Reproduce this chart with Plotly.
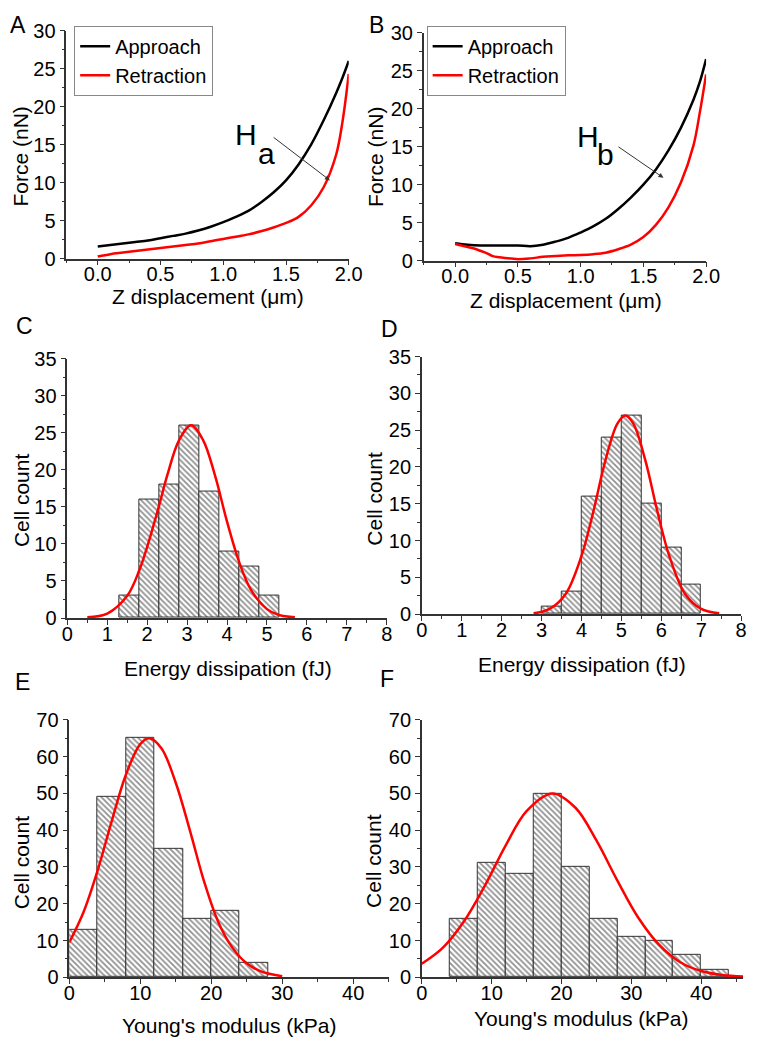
import plotly.graph_objects as go
from plotly.subplots import make_subplots

# ---- panel A / B: force curves ----
z_a = [0.0, 0.1, 0.2, 0.3, 0.4, 0.5, 0.6, 0.7, 0.8, 0.9, 1.0, 1.1, 1.2, 1.3, 1.4, 1.5, 1.6, 1.7, 1.8, 1.9, 1.95, 2.0]
approach_a = [1.6, 1.8, 2.0, 2.2, 2.4, 2.7, 3.0, 3.3, 3.7, 4.2, 4.8, 5.5, 6.3, 7.4, 8.7, 10.3, 12.4, 15.0, 18.2, 21.8, 23.8, 26.0]
retraction_a = [0.3, 0.6, 0.8, 1.0, 1.2, 1.4, 1.6, 1.8, 2.0, 2.3, 2.6, 2.9, 3.2, 3.6, 4.1, 4.7, 5.5, 7.0, 9.4, 13.7, 18.0, 24.3]

z_b_app = [0.0, 0.1, 0.2, 0.3, 0.4, 0.5, 0.6, 0.7, 0.8, 0.9, 1.0, 1.1, 1.2, 1.3, 1.4, 1.5, 1.6, 1.7, 1.8, 1.9, 1.95, 2.0]
approach_b = [2.3, 2.1, 2.0, 2.0, 2.0, 2.0, 1.9, 2.1, 2.5, 3.0, 3.7, 4.5, 5.5, 6.8, 8.3, 10.0, 12.0, 14.5, 17.5, 21.2, 23.5, 26.5]
z_b_ret = [0.0, 0.05, 0.1, 0.15, 0.2, 0.25, 0.3, 0.35, 0.4, 0.5, 0.6, 0.7, 0.8, 0.9, 1.0, 1.1, 1.2, 1.3, 1.4, 1.5, 1.6, 1.7, 1.8, 1.9, 1.95, 2.0]
retraction_b = [2.2, 2.0, 1.8, 1.6, 1.3, 1.0, 0.6, 0.45, 0.35, 0.2, 0.3, 0.5, 0.6, 0.7, 0.75, 0.85, 1.05, 1.5, 2.1, 3.1, 4.7, 7.0, 10.3, 15.2, 19.5, 24.5]

# ---- panel C / D: energy dissipation histograms ----
bins_c = [1.3, 1.8, 2.3, 2.8, 3.3, 3.8, 4.3, 4.8]
counts_c = [3, 16, 18, 26, 17, 9, 7, 3]
fit_c_x = [0.5, 1.0, 1.5, 1.8, 2.0, 2.3, 2.5, 2.8, 3.1, 3.4, 3.7, 4.0, 4.3, 4.6, 5.0, 5.3, 5.7]
fit_c_y = [0.1, 0.6, 3.0, 6.4, 9.6, 15.2, 19.2, 24.0, 26.0, 24.0, 19.2, 13.0, 7.6, 3.8, 1.2, 0.4, 0.1]

bins_d = [3.0, 3.5, 4.0, 4.5, 5.0, 5.5, 6.0, 6.5]
counts_d = [1, 3, 16, 24, 27, 15, 9, 4]
fit_d_x = [2.8, 3.2, 3.6, 4.0, 4.3, 4.6, 4.9, 5.1, 5.3, 5.6, 5.9, 6.2, 6.6, 7.0, 7.45]
fit_d_y = [0.1, 0.7, 2.7, 7.9, 14.0, 20.9, 25.9, 27.0, 25.9, 20.9, 14.0, 7.9, 2.7, 0.7, 0.1]

# ---- panel E / F: Young's modulus histograms ----
bins_e = [0, 4, 8, 12, 16, 20, 24]
counts_e = [13, 49, 65, 35, 16, 18, 4]
fit_e_x = [0, 2, 4, 6, 8, 10, 11.3, 13, 15, 17, 19, 21, 23, 25, 27, 30]
fit_e_y = [9.5, 17.7, 29.1, 42.6, 55.2, 63.4, 65.0, 62.2, 52.9, 39.9, 26.0, 15.0, 8.0, 3.8, 1.6, 0.3]

bins_f = [4, 8, 12, 16, 20, 24, 28, 32, 36, 40]
counts_f = [16, 31, 28, 50, 30, 16, 11, 10, 6, 2]
fit_f_x = [0, 3, 6, 9, 12, 15, 18.7, 22, 25, 28, 31, 34, 37, 40, 43, 46]
fit_f_y = [3.7, 8.0, 15.1, 24.8, 35.8, 45.2, 50.0, 46.1, 37.2, 26.3, 16.2, 8.8, 4.1, 1.7, 0.6, 0.2]

FONT = "Liberation Sans, Arial, sans-serif"
W, H = 761, 1050

fig = make_subplots(rows=3, cols=2)

# Кривые сила-смещение
fig.add_trace(go.Scatter(x=z_a, y=approach_a, mode='lines', name='Approach', legend='legend',
                         line=dict(color='black', width=2.5, shape='spline')), row=1, col=1)
fig.add_trace(go.Scatter(x=z_a, y=retraction_a, mode='lines', name='Retraction', legend='legend',
                         line=dict(color='red', width=2.5, shape='spline')), row=1, col=1)
fig.add_trace(go.Scatter(x=z_b_app, y=approach_b, mode='lines', name='Approach', legend='legend2',
                         line=dict(color='black', width=2.5, shape='spline')), row=1, col=2)
fig.add_trace(go.Scatter(x=z_b_ret, y=retraction_b, mode='lines', name='Retraction', legend='legend2',
                         line=dict(color='red', width=2.5, shape='spline')), row=1, col=2)

# Гистограммы с гауссовой аппроксимацией
hists = [
    (bins_c, counts_c, 0.5, fit_c_x, fit_c_y, 2, 1),
    (bins_d, counts_d, 0.5, fit_d_x, fit_d_y, 2, 2),
    (bins_e, counts_e, 4, fit_e_x, fit_e_y, 3, 1),
    (bins_f, counts_f, 4, fit_f_x, fit_f_y, 3, 2),
]
for left, cnt, bw, fx, fy, r, c in hists:
    fig.add_trace(go.Bar(x=left, y=cnt, width=bw, offset=0, showlegend=False,
                         marker=dict(color='white', line=dict(color='#333', width=1),
                                     pattern=dict(shape='\\', size=4, solidity=0.45,
                                                  fgcolor='#222', bgcolor='white'))),
                  row=r, col=c)
    fig.add_trace(go.Scatter(x=fx, y=fy, mode='lines', showlegend=False,
                             line=dict(color='red', width=2.5, shape='spline')), row=r, col=c)


def px_x(a, b):
    return [a / W, b / W]


def px_y(top, bottom):
    return [1 - bottom / H, 1 - top / H]


domains = {
    1: (px_x(62, 352), px_y(20, 253)),
    2: (px_x(429, 719), px_y(22, 255)),
    3: (px_x(63, 391), px_y(355, 620)),
    4: (px_x(427, 755), px_y(353, 616)),
    5: (px_x(65, 393), px_y(724, 987)),
    6: (px_x(427, 757), px_y(724, 987)),
}
x_cfg = {
    1: ([-0.25, 2.0], 0.5, 0.25, '.1f'),
    2: ([-0.25, 2.0], 0.5, 0.25, '.1f'),
    3: ([0, 8], 1, 0.5, 'd'),
    4: ([0, 8], 1, 0.5, 'd'),
    5: ([0, 45], 10, 5, 'd'),
    6: ([0, 46], 10, 5, 'd'),
}
y_cfg = {
    1: ([0, 30], 5, 2.5),
    2: ([0, 30], 5, 2.5),
    3: ([0, 35], 5, 2.5),
    4: ([0, 35], 5, 2.5),
    5: ([0, 70], 10, 5),
    6: ([0, 70], 10, 5),
}

axis_common = dict(showgrid=False, zeroline=False, showline=True, linecolor='#333', linewidth=1.5,
                   ticks='outside', ticklen=5, tickwidth=1.2, tickcolor='#333', mirror=False)
for i in range(1, 7):
    sx = '' if i == 1 else str(i)
    xr, xd, xm, fmt = x_cfg[i]
    yr, yd, ym = y_cfg[i]
    fig.layout['xaxis' + sx].update(domain=domains[i][0], range=xr, tick0=0, dtick=xd, tickformat=fmt,
                                     tickfont=dict(size=20, color='black', family=FONT),
                                     ticklabelstandoff=-8,
                                     minor=dict(ticks='outside', ticklen=3, dtick=xm, tick0=0, tickcolor='#333'),
                                     **axis_common)
    fig.layout['yaxis' + sx].update(domain=domains[i][1], range=yr, tick0=0, dtick=yd,
                                     tickfont=dict(size=20, color='black', family=FONT),
                                     minor=dict(ticks='outside', ticklen=3, dtick=ym, tick0=0, tickcolor='#333'),
                                     **axis_common)

annotations = []


def label(text, x, y, size=21, angle=0):
    annotations.append(dict(text=text, x=x / W, y=1 - y / H, xref='paper', yref='paper',
                            showarrow=False, textangle=angle, xanchor='center', yanchor='middle',
                            font=dict(size=size, color='black', family=FONT)))


# буквы панелей
for t, x, y in [('A', 12, 14), ('B', 381, 14), ('C', 19, 322), ('D', 394, 325), ('E', 17, 685), ('F', 391, 682)]:
    label(t, x, y, size=23)

# подписи осей
label('Z displacement (\u03bcm)', 207, 292)
label('Z displacement (\u03bcm)', 575, 296)
label('Force (nN)', 15, 149, angle=-90)
label('Force (nN)', 380, 149, angle=-90)
label('Energy dissipation (fJ)', 228, 672)
label('Energy dissipation (fJ)', 592, 667)
label('Cell count', 16, 500, angle=-90)
label('Cell count', 378, 498, angle=-90)
label('Cell count', 16, 870, angle=-90)
label('Cell count', 378, 868, angle=-90)
label("Young's modulus (kPa)", 230, 1036)
label("Young's modulus (kPa)", 591, 1029)

# H_a, H_b
label('H', 246, 126, size=30)
label('a', 268, 146, size=30)
label('H', 598, 128, size=30)
label('b', 616, 147, size=30)

# стрелки
annotations.append(dict(x=1.85, y=10.3, ax=1.39, ay=16.1, xref='x', yref='y', axref='x', ayref='y',
                        text='', showarrow=True, arrowhead=2, arrowsize=1, arrowwidth=1, arrowcolor='#333'))
annotations.append(dict(x=1.66, y=10.9, ax=1.29, ay=15.1, xref='x2', yref='y2', axref='x2', ayref='y2',
                        text='', showarrow=True, arrowhead=2, arrowsize=1, arrowwidth=1, arrowcolor='#333'))

legend_style = dict(bgcolor='white', bordercolor='#888', borderwidth=1,
                    font=dict(size=20, color='black', family=FONT),
                    xanchor='left', yanchor='top', tracegroupgap=0, itemwidth=30)

fig.update_layout(
    width=W, height=H,
    margin=dict(l=0, r=0, t=0, b=0),
    plot_bgcolor='white', paper_bgcolor='white',
    font=dict(family=FONT, color='black'),
    annotations=annotations,
    legend=dict(x=70 / W, y=1 - 15 / H, **legend_style),
    legend2=dict(x=432 / W, y=1 - 15 / H, **legend_style),
    bargap=0,
)

# убираем отступы body, чтобы фигура легла ровно в окно
fig.write_html("out.html", config={'displayModeBar': False},
               post_script="document.body.style.margin='0';")
